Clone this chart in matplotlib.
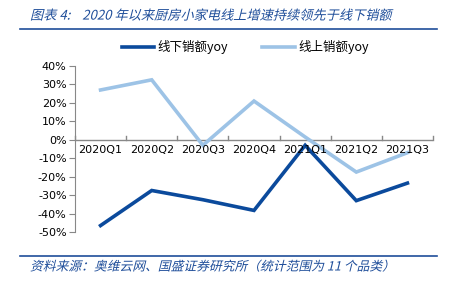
import matplotlib
matplotlib.use("Agg")
import matplotlib.pyplot as plt
from matplotlib.lines import Line2D
from matplotlib.patheffects import AbstractPathEffect
from matplotlib.transforms import Affine2D
import numpy as np

plt.rcParams['font.family'] = ['DejaVu Sans', 'Noto Sans CJK SC']

quarters = ["2020Q1", "2020Q2", "2020Q3", "2020Q4", "2021Q1", "2021Q2", "2021Q3"]
offline_yoy = [-46.5, -27.5, -32.5, -38.3, -3.0, -33.0, -23.5]
online_yoy = [27.0, 32.5, -3.0, 21.0, 1.5, -17.5, -7.0]
y_ticks = [40, 30, 20, 10, 0, -10, -20, -30, -40, -50]

dark = "#0b4a9c"
light = "#9dc3e6"
title_blue = "#1f4e9a"
cjk = ['Noto Sans CJK SC', 'DejaVu Sans']


class Slant(AbstractPathEffect):
    # fake italic for CJK fonts: skew glyphs around the baseline
    def draw_path(self, renderer, gc, tpath, affine, rgbFace=None):
        y0 = affine.transform((0, 0))[1]
        skew = Affine2D().translate(0, -y0).skew_deg(14, 0).translate(0, y0)
        renderer.draw_path(gc, tpath, affine + skew, rgbFace)


fig = plt.figure(figsize=(4.5, 2.83), dpi=100)
ax = fig.add_axes([75 / 450, 1 - 232 / 283, 358 / 450, 166 / 283])

x = np.arange(len(quarters)) + 0.5
ax.plot(x, offline_yoy, color=dark, lw=2.6, solid_joinstyle="miter")
ax.plot(x, online_yoy, color=light, lw=2.6, solid_joinstyle="miter")

ax.set_xlim(0, len(quarters))
ax.set_ylim(-50, 40)
ax.set_yticks(y_ticks)
ax.set_yticklabels([f"{v}%" for v in y_ticks], fontsize=8)

# x axis drawn at zero, with category boundary ticks pointing up
for s in ["top", "right", "bottom"]:
    ax.spines[s].set_visible(False)
ax.spines["left"].set_color("#888888")
ax.tick_params(axis="y", length=4, color="#888888", pad=2)
ax.axhline(0, color="#888888", lw=1, zorder=1)
ax.set_xticks([])
for k in range(len(quarters) + 1):
    ax.plot([k, k], [0, 2.2], color="#888888", lw=1, zorder=1, clip_on=False)
for xi, q in zip(x, quarters):
    ax.text(xi, -2.8, q, ha="center", va="top", fontsize=8)

# title and source
fig.text(30 / 450, 1 - 16 / 283, "图表 4:    2020 年以来厨房小家电线上增速持续领先于线下销额",
         family=cjk, fontsize=9.5, color=title_blue, va="center",
         path_effects=[Slant()])
fig.add_artist(Line2D([20 / 450, 437 / 450], [1 - 29 / 283] * 2, color=title_blue, lw=1.2))
fig.add_artist(Line2D([20 / 450, 437 / 450], [1 - 256 / 283] * 2, color=title_blue, lw=1.2))
fig.text(30 / 450, 1 - 267 / 283, "资料来源：奥维云网、国盛证券研究所（统计范围为 11 个品类）",
         family=cjk, fontsize=9.2, color=title_blue, va="center",
         path_effects=[Slant()])

# legend
ly = 1 - 47 / 283
fig.add_artist(Line2D([122 / 450, 154 / 450], [ly, ly], color=dark, lw=2.6))
fig.text(157 / 450, ly, "线下销额yoy", family=cjk, fontsize=9, va="center")
fig.add_artist(Line2D([262 / 450, 295 / 450], [ly, ly], color=light, lw=2.6))
fig.text(298 / 450, ly, "线上销额yoy", family=cjk, fontsize=9, va="center")

fig.savefig("out.png", dpi=100)
